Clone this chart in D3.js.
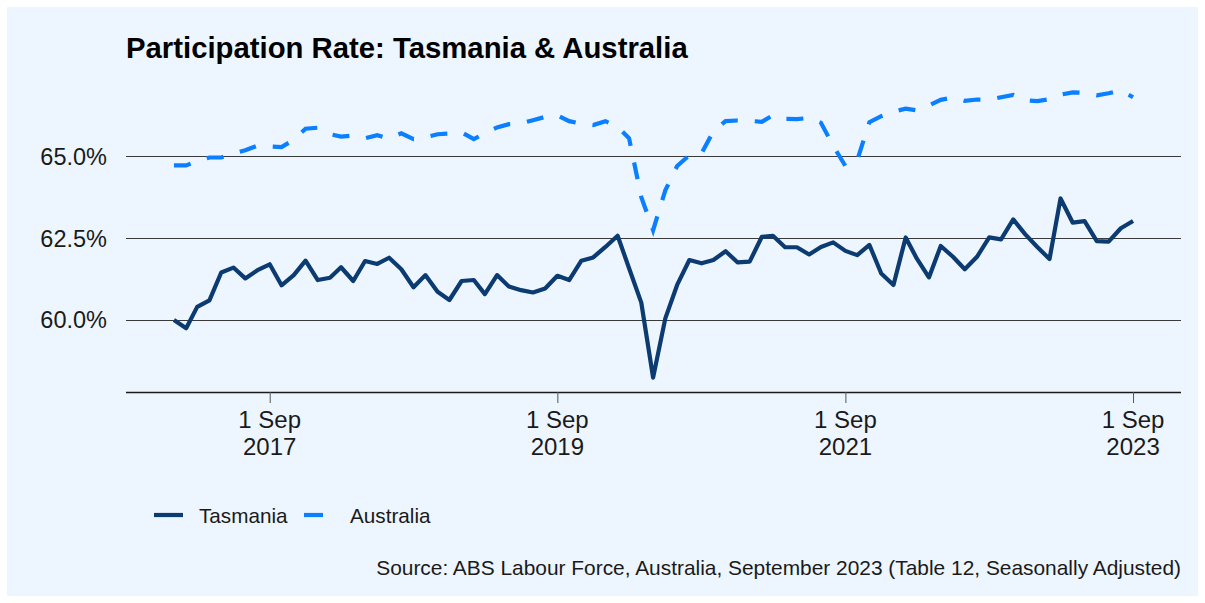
<!DOCTYPE html>
<html>
<head>
<meta charset="utf-8">
<script src="https://cdn.jsdelivr.net/npm/d3@7"></script>
<style>
  body { margin: 0; background: #ffffff; }
  svg text { font-family: "Liberation Sans", Arial, sans-serif; }
</style>
</head>
<body>
<svg id="chart" width="1205" height="603"></svg>
<script>
// monthly series, Jan 2017 .. Sep 2023
var firstMonth = "2017-01-01",
    lastMonth = "2023-09-01";

var tasmania = [
    60.0, 59.75, 60.4, 60.6, 61.45, 61.6, 61.27, 61.52, 61.7, 61.06, 61.37, 61.81,
    61.22, 61.29, 61.61, 61.19, 61.8, 61.71, 61.9, 61.55, 61.0, 61.37, 60.86, 60.61,
    61.19, 61.22, 60.79, 61.37, 61.02, 60.91, 60.84, 60.96, 61.35, 61.22, 61.81, 61.91,
    62.23, 62.57, 61.58, 60.53, 58.24, 60.05, 61.07, 61.83, 61.73, 61.83, 62.1, 61.76,
    61.78, 62.54, 62.57, 62.22, 62.22, 62.0, 62.23, 62.37, 62.11, 61.98, 62.29, 61.42,
    61.07, 62.52, 61.88, 61.3, 62.26, 61.93, 61.55, 61.93, 62.52, 62.46, 63.07, 62.62,
    62.23, 61.86, 63.71, 62.97, 63.02, 62.41, 62.39, 62.8, 63.02
];

var australia = [
    64.72, 64.72, 64.85, 64.96, 64.96, 65.08, 65.18, 65.32, 65.3, 65.28, 65.5, 65.84,
    65.87, 65.67, 65.6, 65.63, 65.55, 65.64, 65.54, 65.7, 65.52, 65.58, 65.67, 65.69,
    65.73, 65.52, 65.7, 65.88, 65.98, 66.0, 66.1, 66.2, 66.25, 66.07, 65.99, 65.95,
    66.07, 65.9, 65.55, 63.75, 62.74, 63.96, 64.7, 65.03, 65.09, 65.76, 66.07, 66.09,
    66.08, 66.05, 66.25, 66.14, 66.13, 66.17, 66.02, 65.32, 64.7, 64.88, 66.04, 66.22,
    66.36, 66.45, 66.4, 66.55, 66.72, 66.79, 66.69, 66.73, 66.73, 66.8, 66.87, 66.71,
    66.68, 66.74, 66.88, 66.95, 66.93, 66.86, 66.92, 67.01, 66.8
];

var yTicks = [60, 62.5, 65];
var xTicks = ["2017-09-01", "2019-09-01", "2021-09-01", "2023-09-01"];
var seriesNames = ["Tasmania", "Australia"];
var seriesColours = ["#0b3b71", "#0a7fff"];

function drawChart() {
    var parse = d3.timeParse("%Y-%m-%d");
    var months = d3.timeMonth.range(parse(firstMonth), d3.timeMonth.offset(parse(lastMonth), 1));

    var svg = d3.select("svg#chart"),
        plotLeft = 126, plotRight = 1181, plotTop = 76, plotBottom = 392;

    svg.append("rect")
        .attr("x", 7).attr("y", 7)
        .attr("width", 1191).attr("height", 589)
        .attr("fill", "#edf5ff");

    // ggplot-style 5% expansion
    var t0 = months[0], t1 = months[months.length - 1],
        tp = (t1 - t0) * 0.05;
    var x = d3.scaleTime()
        .domain([new Date(+t0 - tp), new Date(+t1 + tp)])
        .range([plotLeft, plotRight]);

    var all = tasmania.concat(australia),
        lo = d3.min(all), hi = d3.max(all), vp = (hi - lo) * 0.05;
    var y = d3.scaleLinear()
        .domain([lo - vp, hi + vp])
        .range([plotBottom, plotTop]);

    // gridlines
    svg.append("g")
        .selectAll("line")
        .data(yTicks)
        .enter()
        .append("line")
        .attr("x1", plotLeft).attr("x2", plotRight)
        .attr("y1", d => Math.round(y(d)) + 0.5).attr("y2", d => Math.round(y(d)) + 0.5)
        .attr("stroke", "#3a3a3a")
        .attr("stroke-width", 1.1);

    svg.append("g")
        .selectAll("text")
        .data(yTicks)
        .enter()
        .append("text")
        .attr("x", 107)
        .attr("y", d => y(d) + 8.5)
        .attr("text-anchor", "end")
        .attr("font-size", "23.5px")
        .attr("fill", "#1a1a1a")
        .text(d => d3.format(".1f")(d) + "%");

    // x axis
    var xAxis = svg.append("g")
        .attr("transform", "translate(0," + plotBottom + ")")
        .call(d3.axisBottom(x)
            .tickValues(xTicks.map(parse))
            .tickSize(11)
            .tickFormat(""));
    xAxis.select(".domain")
        .attr("d", "M" + plotLeft + ",0.5H" + plotRight)
        .attr("stroke", "#1a1a1a")
        .attr("stroke-width", 1.3);
    xAxis.selectAll(".tick line").attr("stroke", "#555").attr("stroke-width", 1);

    var tickLab = svg.append("g")
        .selectAll("text")
        .data(xTicks.map(parse))
        .enter()
        .append("text")
        .attr("text-anchor", "middle")
        .attr("font-size", "24px")
        .attr("fill", "#1a1a1a");
    tickLab.append("tspan").attr("x", d => x(d)).attr("y", 428).text(d3.timeFormat("%-d %b"));
    tickLab.append("tspan").attr("x", d => x(d)).attr("y", 455).text(d3.timeFormat("%Y"));

    // lines
    var line = d3.line()
        .x((d, i) => x(months[i]))
        .y(d => y(d));

    svg.append("path")
        .datum(australia)
        .attr("d", line)
        .attr("fill", "none")
        .attr("stroke", seriesColours[1])
        .attr("stroke-width", 4.2)
        .attr("stroke-dasharray", "17,17");

    svg.append("path")
        .datum(tasmania)
        .attr("d", line)
        .attr("fill", "none")
        .attr("stroke", seriesColours[0])
        .attr("stroke-width", 4.2)
        .attr("stroke-linejoin", "round");

    // title
    svg.append("text")
        .attr("x", 126)
        .attr("y", 58)
        .attr("font-size", "29.3px")
        .attr("font-weight", "bold")
        .attr("fill", "#000")
        .text("Participation Rate: Tasmania & Australia");

    // legend
    var legend = svg.append("g")
        .selectAll("g")
        .data(seriesNames)
        .enter()
        .append("g")
        .attr("transform", (d, i) => "translate(" + [154, 304][i] + ",515)");

    legend.append("line")
        .attr("x1", 0).attr("x2", 29)
        .attr("stroke", (d, i) => seriesColours[i])
        .attr("stroke-width", 4.2)
        .attr("stroke-dasharray", (d, i) => i ? "19,19" : null);

    legend.append("text")
        .attr("x", (d, i) => [45, 46][i])
        .attr("y", 8)
        .attr("font-size", "20.7px")
        .attr("fill", "#1a1a1a")
        .text(d => d);

    svg.append("text")
        .attr("x", 1181)
        .attr("y", 575)
        .attr("text-anchor", "end")
        .attr("font-size", "20.9px")
        .attr("fill", "#1a1a1a")
        .text("Source: ABS Labour Force, Australia, September 2023 (Table 12, Seasonally Adjusted)");
}

drawChart();
</script>
</body>
</html>
